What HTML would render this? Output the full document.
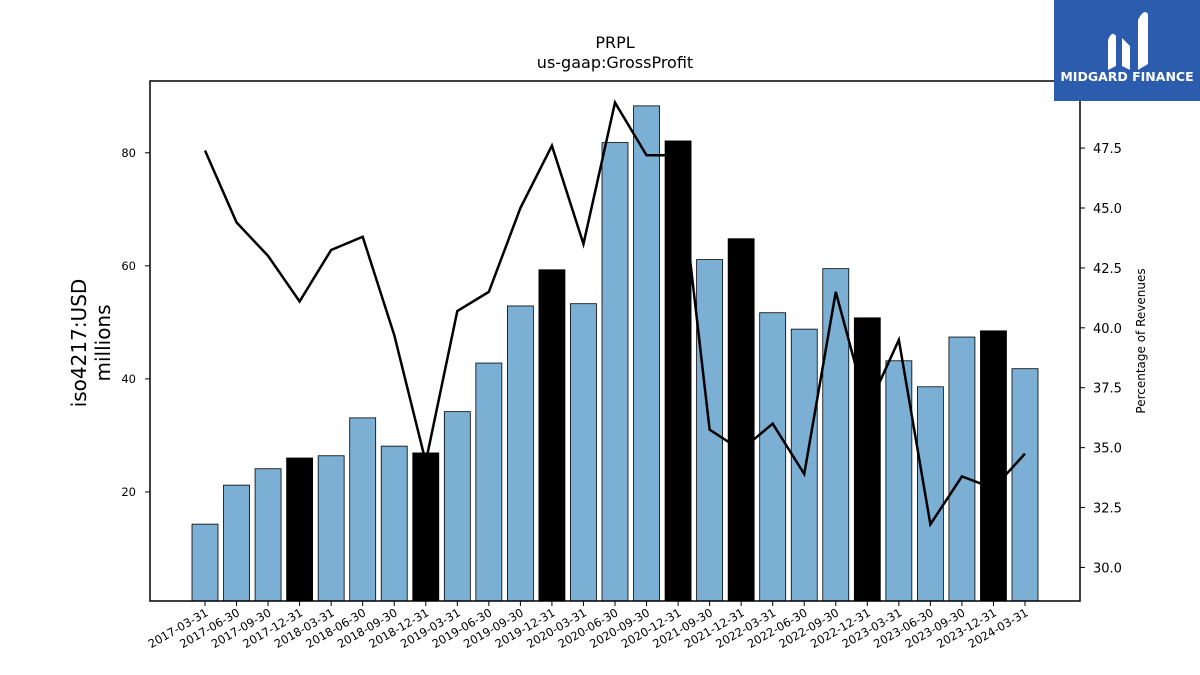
<!DOCTYPE html>
<html><head><meta charset="utf-8"><style>
body{margin:0;background:#fff;}
svg{display:block;font-family:"DejaVu Sans","Liberation Sans",sans-serif;}
</style></head><body>
<svg id="chart" width="1200" height="675" viewBox="0 0 1200 675">
<text x="615" y="48" text-anchor="middle" font-size="16">PRPL</text>
<text x="615" y="68" text-anchor="middle" font-size="16">us-gaap:GrossProfit</text>
<g id="bars"></g>
<g id="line"></g>
<g id="axes"></g>
<rect x="150" y="81" width="930" height="520" fill="none" stroke="#000" stroke-width="1.5"/>
<text transform="translate(88,343) rotate(-90)" text-anchor="middle" font-size="20"><tspan x="0" dy="-2">iso4217:USD</tspan><tspan x="0" dy="24">millions</tspan></text>
<text transform="translate(1145,341) rotate(-90)" text-anchor="middle" font-size="12">Percentage of Revenues</text>
<g>
<rect x="1054" y="0" width="146" height="101" fill="#2b5cad"/>
<path d="M1108 70 L1108 40 Q1112 30 1116 36 L1116 66 Z M1122 66 L1122 38 L1130 46 L1130 70 Z M1138 70 L1138 20 Q1144 8 1148 14 L1148 64 Z" fill="#fff"/>
<text x="1127" y="81" text-anchor="middle" font-size="12.5" font-weight="bold" fill="#fff">MIDGARD FINANCE</text>
</g>
</svg>
<script>
const categories=["2017-03-31","2017-06-30","2017-09-30","2017-12-31","2018-03-31","2018-06-30","2018-09-30","2018-12-31","2019-03-31","2019-06-30","2019-09-30","2019-12-31","2020-03-31","2020-06-30","2020-09-30","2020-12-31","2021-09-30","2021-12-31","2022-03-31","2022-06-30","2022-09-30","2022-12-31","2023-03-31","2023-06-30","2023-09-30","2023-12-31","2024-03-31"];
const grossProfit=[14.3,21.2,24.1,26.0,26.4,33.1,28.1,26.9,34.2,42.8,52.9,59.3,53.3,81.8,88.3,82.1,61.1,64.8,51.7,48.8,59.5,50.8,43.2,38.6,47.4,48.5,41.8];
const pctRevenue=[47.4,44.4,43.0,41.1,43.25,43.8,39.7,34.4,40.7,41.5,45.0,47.6,43.5,49.4,47.2,47.2,35.75,34.9,36.0,33.9,41.5,36.6,39.5,31.8,33.8,33.3,34.75];
const leftTicks=[20,40,60,80];
const rightTicks=[30.0,32.5,35.0,37.5,40.0,42.5,45.0,47.5];
const NS="http://www.w3.org/2000/svg";
const L=150,R=1080,T=81,B=601;
const yMin=0.7,yMax=92.7,y2Min=28.6,y2Max=50.3;
const xScale=i=>205+i*(1025-205)/(categories.length-1);
const yScale=v=>B-(v-yMin)/(yMax-yMin)*(B-T);
const y2Scale=v=>B-(v-y2Min)/(y2Max-y2Min)*(B-T);
function mk(tag,attrs,parent){const e=document.createElementNS(NS,tag);for(const k in attrs)e.setAttribute(k,attrs[k]);parent.appendChild(e);return e;}
const bars=document.getElementById('bars'),line=document.getElementById('line'),axes=document.getElementById('axes');
const bw=26;
grossProfit.forEach((v,i)=>{
  const fy=categories[i].endsWith('12-31');
  const r=mk('rect',{x:xScale(i)-bw/2,y:yScale(v),width:bw,height:B-yScale(v),fill:fy?'#000':'#7bafd4',stroke:'#000','stroke-width':0.8},bars);
  
  
});
const pts=pctRevenue.map((v,i)=>xScale(i)+','+y2Scale(v)).join(' ');
const pl=mk('polyline',{points:pts,fill:'none',stroke:'#000','stroke-width':2.5},line);


categories.forEach((c,i)=>{
  const x=xScale(i);
  mk('line',{x1:x,x2:x,y1:B,y2:B+5,stroke:'#000'},axes);
  const t=mk('text',{x:0,y:0,'font-size':11.5,'text-anchor':'end',transform:`translate(${x+4},${B+14}) rotate(-30)`},axes);
  t.textContent=c;
  
  
});
leftTicks.forEach(v=>{
  const y=yScale(v);
  mk('line',{x1:L-5,x2:L,y1:y,y2:y,stroke:'#000'},axes);
  const t=mk('text',{x:L-14,y:y+4,'font-size':11.5,'text-anchor':'end'},axes);
  t.textContent=v;
  
  
});
rightTicks.forEach(v=>{
  const y=y2Scale(v);
  mk('line',{x1:R,x2:R+5,y1:y,y2:y,stroke:'#000'},axes);
  const t=mk('text',{x:R+13,y:y+5,'font-size':13},axes);
  t.textContent=v.toFixed(1);
  
  
});
</script>
</body></html>
